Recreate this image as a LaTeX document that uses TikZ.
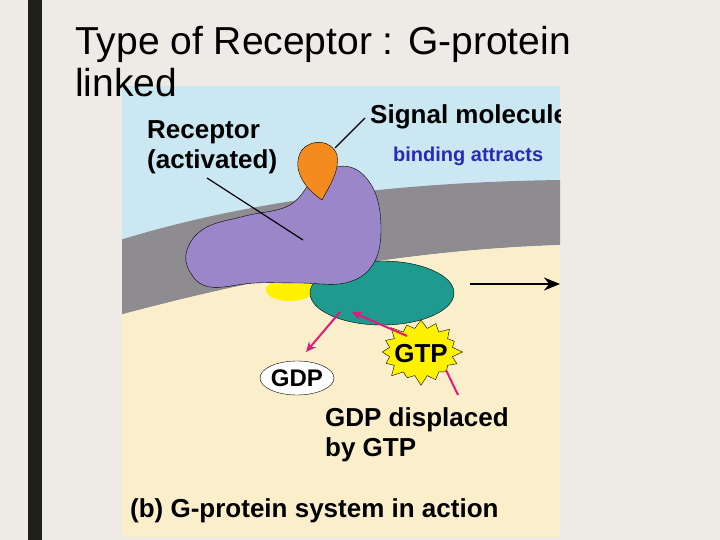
\documentclass[tikz,border=0pt]{standalone}
\usepackage{fontspec}
\setmainfont{Liberation Sans}
\usetikzlibrary{shapes.misc,shapes.symbols,shapes.geometric,arrows.meta}
\definecolor{bg}{HTML}{EEEBE6}
\definecolor{bar}{HTML}{1E2016}
\definecolor{sky}{HTML}{CBE8F2}
\definecolor{cream}{HTML}{FBEFCB}
\definecolor{memb}{HTML}{8E8C90}
\definecolor{purp}{HTML}{9A86C8}
\definecolor{teal}{HTML}{1F9A8E}
\definecolor{orng}{HTML}{F58A1F}
\definecolor{mag}{HTML}{E0197A}
\definecolor{lblue}{HTML}{2A2AB8}
\tikzset{lab/.style={font=\bfseries\fontsize{26}{28}\selectfont,anchor=base west,inner sep=0pt},
 ttl/.style={font=\fontsize{39}{41}\selectfont,anchor=base west,inner sep=0pt},
 marr/.style={mag,line width=2pt,-{Stealth[length=10pt,width=9pt]}}}
\begin{document}
\begin{tikzpicture}[x=1pt,y=-1pt]
\useasboundingbox (0,0) rectangle (720,540);
\fill[bg] (0,0) rectangle (720,540);
\fill[bar] (28,0) rectangle (42,540);
\begin{scope}
\clip (122,86) rectangle (560,537);
\fill[cream] (122,86) rectangle (560,537);
\fill[sky] (122,86) rectangle (560,260);
\fill[memb] (120,240) .. controls (250,200) and (400,182) .. (562,180) -- (562,245) .. controls (400,250) and (250,280) .. (120,315) -- cycle;
\fill[cream] (120,315) .. controls (250,280) and (400,250) .. (562,245) -- (562,330) -- (120,330) -- cycle;
\fill[yellow] (290,290) ellipse (24 and 11);
\draw[thin,fill=teal] (382,293) ellipse (72 and 32);
\draw[thin,fill=purp] plot[smooth cycle,tension=0.65] coordinates {(187,250) (205,228) (245,216) (290,205) (318,175) (350,167) (374,190) (381,232) (372,266) (345,283) (300,283) (255,283) (210,287) (190,272)};
\draw[thin,fill=orng] (322,200) .. controls (300,185) and (292,165) .. (302,150) .. controls (312,138) and (332,140) .. (337,155) .. controls (340,170) and (330,185) .. (322,200) -- cycle;
\draw[line width=1.2pt] (335,148) -- (365,118);
\draw[line width=1.2pt] (207,178) -- (303,240);
\node[lab] (rec) at (147,139) {Receptor};
\node[lab] (act) at (147,169) {(activated)};
\node[lab] (sig) at (370,124) {Signal molecule};
\node[lab,text=lblue,font=\bfseries\fontsize{20}{22}\selectfont] (bind) at (393,162) {binding attracts};
\coordinate (a1) at (470,284);
\coordinate (a2) at (560,284);
\draw[line width=2.6pt,-{Stealth[length=16pt,width=13pt]}] (a1) -- (a2);
\node[starburst,starburst points=16,starburst point height=11pt,fill=yellow,draw,thin,minimum width=86pt,minimum height=70pt,inner sep=0pt] (gtp) at (421,352) {};
\node[lab,anchor=center] (gtpt) at (421,354) {GTP};
\node[ellipse,draw,thin,fill=white,minimum width=74pt,minimum height=34pt,inner sep=0pt,font=\bfseries\fontsize{24}{26}\selectfont] (gdp) at (297,378) {GDP};
\coordinate (g1) at (340,312);
\coordinate (g2) at (306,352);
\draw[marr] (g1) -- (g2);
\coordinate (t1) at (407,336);
\coordinate (t2) at (352,312);
\draw[marr] (t1) -- (t2);
\coordinate (d1) at (458,395);
\draw[mag,line width=2pt] (d1) -- (446,370);
\node[lab] (disp) at (325,426) {GDP displaced};
\node[lab] (by) at (325,456) {by GTP};
\node[lab] (cap) at (130,517) {(b) G-protein system in action};
\end{scope}
\node[ttl] (t1n) at (75,55) {Type of Receptor : G-protein};
\node[ttl] (t2n) at (75,97) {linked};
\end{tikzpicture}
\end{document}
